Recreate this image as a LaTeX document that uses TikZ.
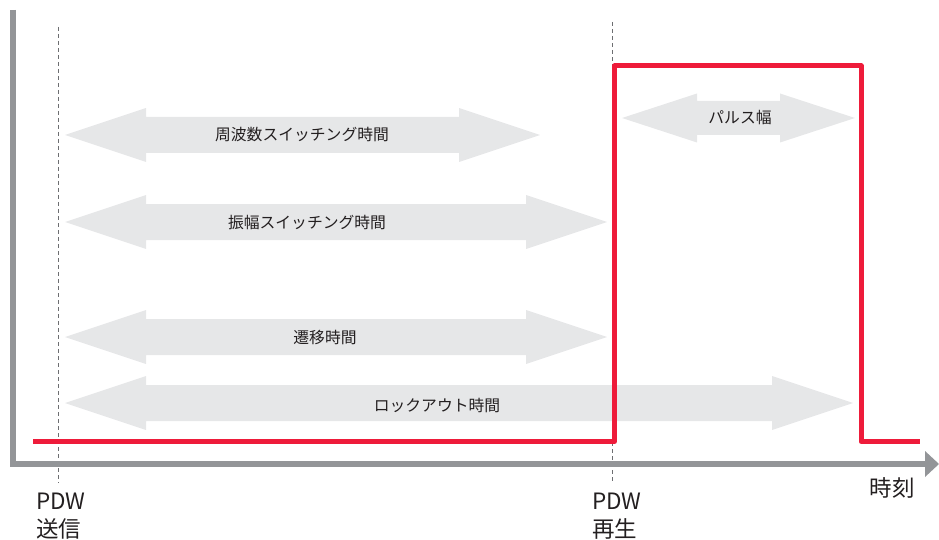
\documentclass[tikz,border=0pt]{standalone}
\usepackage{fontspec}
\setmainfont{Noto Sans CJK JP}
\definecolor{pdwred}{HTML}{EE1B3A}
\definecolor{arrowgray}{HTML}{E6E7E8}
\definecolor{axisgray}{HTML}{939598}
\definecolor{dashgray}{HTML}{6D6E71}
\definecolor{txt}{HTML}{231F20}
\newcommand{\dblarrow}[6]{% x1 x2 y headlen headhalf shafthalf
  \fill[arrowgray] (#1,#3) -- ({#1+#4},{#3-#5}) -- ({#1+#4},{#3-#6}) -- ({#2-#4},{#3-#6}) -- ({#2-#4},{#3-#5}) -- (#2,#3)
    -- ({#2-#4},{#3+#5}) -- ({#2-#4},{#3+#6}) -- ({#1+#4},{#3+#6}) -- ({#1+#4},{#3+#5}) -- cycle;}
\tikzset{
  inlabel/.style={text=txt, font=\fontsize{15.8}{18}\selectfont, inner sep=0pt},
  axlabel/.style={text=txt, font=\fontsize{22.5}{28}\selectfont, inner sep=0pt, align=left},
  guide/.style={dashgray, line width=0.8pt, dash pattern=on 4pt off 3pt},
  axisline/.style={axisgray, line width=6pt},
  signal/.style={pdwred, line width=5pt, line join=round}
}
\begin{document}
\begin{tikzpicture}[x=1pt,y=-1pt]
\useasboundingbox (0,0) rectangle (939,540);
% guides
\draw[guide] (58,27) -- (58,483);
\draw[guide] (612,22) -- (612,483);
% double arrows
\dblarrow{65}{540}{135}{81}{27}{18}
\dblarrow{65}{607}{222}{81}{27}{18}
\dblarrow{65}{607}{337}{81}{27}{18}
\dblarrow{65}{853}{403}{81}{27}{18}
\dblarrow{622}{855}{118}{75}{24.5}{17}
% labels
\node[inlabel] (freq) at (302,135) {周波数スイッチング時間};
\node[inlabel] (amp) at (307,222) {振幅スイッチング時間};
\node[inlabel] (trans) at (325,337) {遷移時間};
\node[inlabel] (lock) at (437,405) {ロックアウト時間};
\node[inlabel] (pw) at (740,118) {パルス幅};
% axes
\draw[axisline] (13,10) -- (13,464) -- (926,464);
\fill[axisgray] (925,451) -- (939,464) -- (925,477) -- cycle;
% signal
\draw[signal] (33,441.5) -- (614.5,441.5) -- (614.5,66) -- (861,66) -- (861,441.5) -- (920,441.5);
% axis labels
\node[axlabel, anchor=north west] (send) at (36,493) {PDW\\送信};
\node[axlabel, anchor=north west] (play) at (592,493) {PDW\\再生};
\node[axlabel] (time) at (892,488) {時刻};
\end{tikzpicture}
\end{document}
